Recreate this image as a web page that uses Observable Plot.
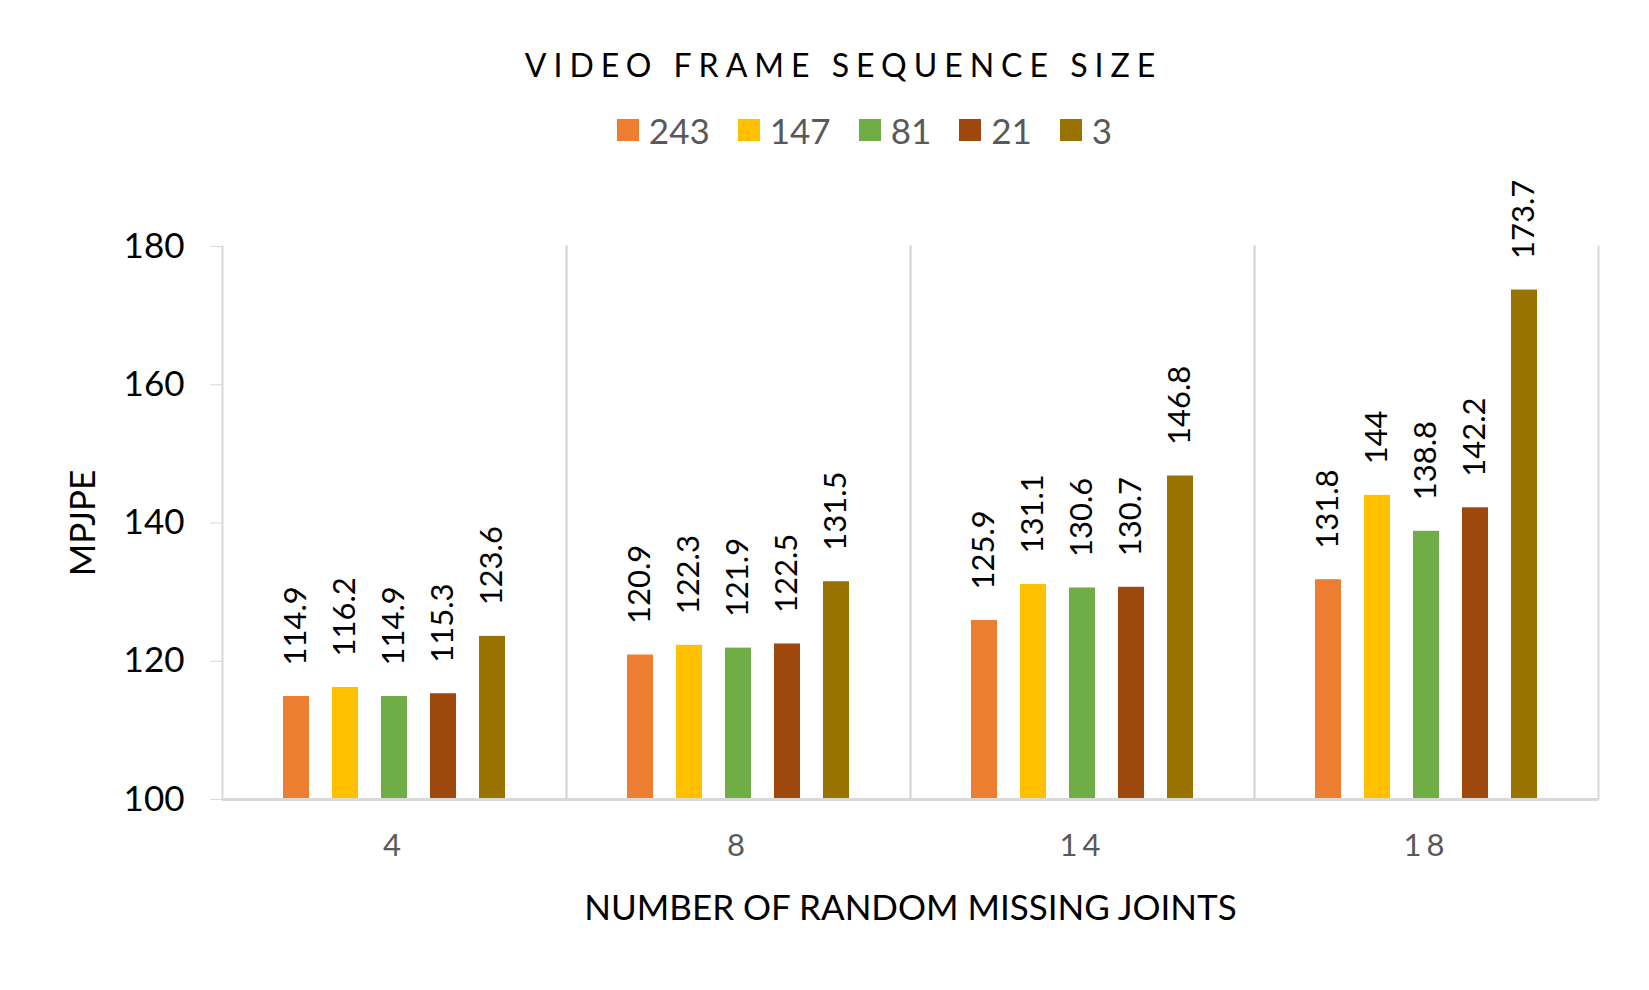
<!DOCTYPE html>
<html>
<head>
<meta charset="utf-8">
<script src="https://cdn.jsdelivr.net/npm/d3@7"></script>
<script src="https://cdn.jsdelivr.net/npm/@observablehq/plot@0.6"></script>
<style>
  html, body { margin: 0; padding: 0; background: #fff; }
  body { width: 1649px; font-family: Lato, "Open Sans", sans-serif; }
  #title { position: absolute; left: 0; width: 1649px; top: 45px; text-align: center;
           font-size: 32px; letter-spacing: 7px; color: #000; line-height: 40px; padding-left: 38px; box-sizing: border-box; }
  #legend { position: absolute; left: 0; width: 1649px; top: 110px; display: flex; justify-content: center;
            font-size: 35px; color: #595959; line-height: 40px; padding-left: 80px; box-sizing: border-box; }
  .item { display: flex; align-items: center; margin: 0 14px; }
  .sw { width: 22px; height: 22px; margin-right: 10px; }
  #chart { position: absolute; left: 0; top: 150px; }
  g[aria-label="fx-axis tick label"] text { letter-spacing: 5px; fill: #595959; }
  g[aria-label="fx-axis label"] text { font-size: 35px; fill: #000; }
</style>
</head>
<body>
<div id="title">VIDEO FRAME SEQUENCE SIZE</div>
<div id="legend"></div>
<div id="chart"></div>
<script>
const joints = ["4", "8", "14", "18"];
const series = ["243", "147", "81", "21", "3"];
const colors = ["#ED7D31", "#FFC000", "#70AD47", "#9E480E", "#997300"];
const v243 = [114.9, 120.9, 125.9, 131.8];
const v147 = [116.2, 122.3, 131.1, 144];
const v81  = [114.9, 121.9, 130.6, 138.8];
const v21  = [115.3, 122.5, 130.7, 142.2];
const v3   = [123.6, 131.5, 146.8, 173.7];
const yTicks = [100, 120, 140, 160, 180];
const yMin = 100, yMax = 180;

const seriesValues = [v243, v147, v81, v21, v3];
const data = [];
joints.forEach((j, ji) => {
  series.forEach((s, si) => {
    data.push({joints: j, series: s, value: seriesValues[si][ji]});
  });
});

// legend
const legend = document.getElementById("legend");
series.forEach((s, i) => {
  const it = document.createElement("div");
  it.className = "item";
  const sw = document.createElement("div");
  sw.className = "sw";
  sw.style.background = colors[i];
  const tx = document.createElement("span");
  tx.textContent = s;
  it.appendChild(sw); it.appendChild(tx);
  legend.appendChild(it);
});

const chart = Plot.plot({
  width: 1649,
  height: 800,
  marginLeft: 221,
  marginRight: 50,
  marginTop: 96,
  marginBottom: 151,
  style: {fontFamily: "Lato, 'Open Sans', sans-serif", background: "white"},
  fx: {domain: joints, padding: 0},
  x: {domain: series, paddingInner: 0.46, paddingOuter: 1.185, axis: null},
  y: {domain: [yMin, yMax]},
  color: {domain: series, range: colors},
  marks: [
    Plot.frame({anchor: "left", stroke: "#d9d9d9", strokeWidth: 2}),
    Plot.frame({anchor: "right", stroke: "#d9d9d9", strokeWidth: 2}),
    Plot.barY(data, {fx: "joints", x: "series", y1: yMin, y2: "value", fill: "series"}),
    Plot.ruleY([yMin], {stroke: "#d9d9d9", strokeWidth: 3}),
    Plot.text(data, {fx: "joints", x: "series", y: "value", text: d => String(d.value),
      rotate: -90, textAnchor: "start", dy: -31, fontSize: 31, fill: "black"}),
    Plot.axisY({ticks: yTicks, tickSize: 12, tickPadding: 26, fontSize: 35, stroke: "#d9d9d9", fill: "black",
      label: "MPJPE", labelArrow: "none", labelAnchor: "center", labelOffset: 152, tickFormat: d => String(d)}),
    Plot.axisFx({anchor: "bottom", tickSize: 0, tickPadding: 34, fontSize: 31, fill: "#595959",
      label: "NUMBER OF RANDOM MISSING JOINTS", labelArrow: "none", labelAnchor: "center", labelOffset: 120})
  ]
});
document.getElementById("chart").appendChild(chart);
</script>
</body>
</html>
